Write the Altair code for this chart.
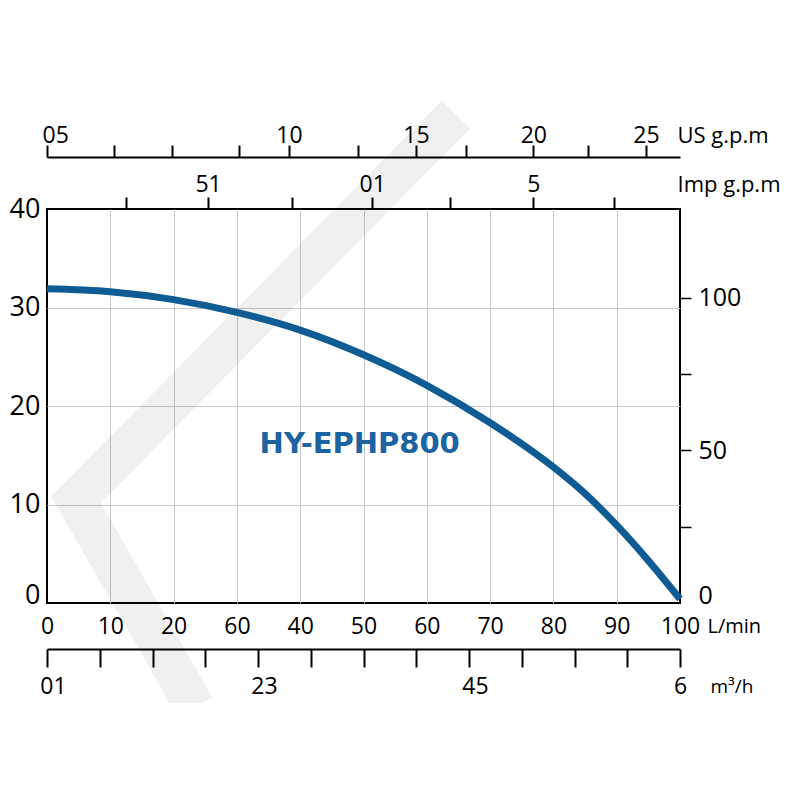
import altair as alt
import pandas as pd

# ---- data ----
flow_lpm = [0, 10, 20, 30, 40, 50, 60, 70, 80, 85, 90, 95, 100]
head_m = [31.9, 31.6, 30.8, 29.5, 27.7, 25.2, 22.1, 18.3, 13.8, 11.1, 7.9, 4.3, 0.4]

lpm_ticks = [0, 10, 20, 30, 40, 50, 60, 70, 80, 90, 100]
lpm_labels = ["0", "10", "20", "60", "40", "50", "60", "70", "80", "90", "100"]

m_ticks = [0, 10, 20, 30, 40]
ft_ticks = [0, 25, 50, 75, 100]
ft_labels = ["0", "", "50", "", "100"]

us_ticks = [0, 2.8, 5.2, 8.0, 10.1, 13.0, 15.4, 17.5, 20.3, 22.6, 25.0]
us_labels = ["05", "", "", "", "10", "", "15", "", "20", "", "25"]

imp_ticks = [2.75, 5.6, 8.5, 11.3, 14.0, 16.9, 19.7]
imp_labels = ["", "51", "", "01", "", "5", ""]

m3h_ticks = [0, 0.5, 1, 1.5, 2, 2.5, 3, 3.5, 4, 4.5, 5, 5.5, 6]
m3h_labels = ["01", "", "", "", "23", "", "", "", "45", "", "", "", "6"]

model_name = ["HY-EPHP800"]
model_x = [49.4]
model_y = [15.2]

# decorative watermark chevron (centre line, in L/min / m units)
wm_x = [64.6, 4.6, 23.4]
wm_y = [49.6, 10.5, -10.6]

W, H = 633, 394
FONT = "Open Sans"
CURVE = "#0f5c94"


def expr(values, labels):
    parts = [f"abs(datum.value - {v}) < 0.001 ? '{l}'" for v, l in zip(values, labels)]
    return " : ".join(parts) + " : ''"


edge_grid = {"condition": {"test": "datum.value <= 0 || datum.value >= 100", "value": "transparent"},
             "value": "#c8c8c8"}
edge_grid_y = {"condition": {"test": "datum.value <= 0 || datum.value >= 40", "value": "transparent"},
               "value": "#c8c8c8"}

x_lpm = alt.Scale(domain=[0, 100], nice=False, zero=False)
y_m = alt.Scale(domain=[0, 40], nice=False, zero=False)

wm_df = pd.DataFrame({"x": wm_x, "y": wm_y, "o": [0, 1, 2]})
watermark = alt.Chart(wm_df).mark_line(
    color="black", opacity=0.06, strokeWidth=40, strokeJoin="miter", strokeCap="butt", clip=False
).encode(
    x=alt.X("x:Q", scale=x_lpm, axis=None),
    y=alt.Y("y:Q", scale=y_m, axis=None),
    order="o:Q",
)

curve_df = pd.DataFrame({"flow": flow_lpm, "head": head_m})
curve = alt.Chart(curve_df).mark_line(
    color=CURVE, strokeWidth=7, interpolate="monotone", strokeCap="butt"
).encode(
    x=alt.X("flow:Q", scale=x_lpm, axis=alt.Axis(
        orient="bottom", values=lpm_ticks, labelExpr=expr(lpm_ticks, lpm_labels),
        grid=True, gridColor=edge_grid, gridWidth=1, ticks=False, domain=False,
        labelFontSize=23, labelPadding=12, labelOverlap=False, labelBound=False, labelFlush=False,
        title="L/min", titleX=660, titleY=29, titleAlign="left", titleBaseline="alphabetic",
        titleFontSize=20, titleAngle=0,
    )),
    y=alt.Y("head:Q", scale=y_m, axis=alt.Axis(
        orient="left", values=m_ticks, grid=True, gridColor=edge_grid_y, gridWidth=1,
        ticks=False, domain=False, labelFontSize=27, labelPadding=7, labelOverlap=False,
        labelFlush=False,
        labelBaseline={"condition": {"test": "datum.value == 0", "value": "alphabetic"}, "value": "middle"},
        title=None,
    )),
)

text_df = pd.DataFrame({"t": model_name, "x": model_x, "y": model_y})
label = alt.Chart(text_df).mark_text(
    font="DejaVu Sans", fontWeight="bold", fontSize=29, color="#1c63a1",
    align="center", baseline="alphabetic"
).encode(
    x=alt.X("x:Q", scale=x_lpm, axis=None),
    y=alt.Y("y:Q", scale=y_m, axis=None),
    text="t:N",
)

us_df = pd.DataFrame({"v": us_ticks})
us_axis = alt.Chart(us_df).mark_point(opacity=0).encode(
    x=alt.X("v:Q", scale=alt.Scale(domain=[0, 26.42], nice=False, zero=False), axis=alt.Axis(
        orient="top", offset=52, values=us_ticks, labelExpr=expr(us_ticks, us_labels),
        grid=False, domain=True, domainColor="black", domainWidth=2,
        ticks=True, tickColor="black", tickWidth=2, tickSize=12,
        labelFontSize=23, labelPadding=3, labelBaseline="alphabetic", labelOverlap=False,
        labelBound=False, labelFlush=True, labelFlushOffset=5,
        title="US g.p.m", titleX=630, titleY=-15, titleAlign="left", titleBaseline="alphabetic",
        titleFontSize=22, titleAngle=0,
    )),
)

imp_df = pd.DataFrame({"v": imp_ticks})
imp_axis = alt.Chart(imp_df).mark_point(opacity=0).encode(
    x=alt.X("v:Q", scale=alt.Scale(domain=[0, 22.0], nice=False, zero=False), axis=alt.Axis(
        orient="top", offset=0, values=imp_ticks, labelExpr=expr(imp_ticks, imp_labels),
        grid=False, domain=False,
        ticks=True, tickColor="black", tickWidth=2, tickSize=12,
        labelFontSize=23, labelPadding=6, labelBaseline="alphabetic", labelOverlap=False,
        labelBound=False, labelFlush=False,
        title="Imp g.p.m", titleX=630, titleY=-18, titleAlign="left", titleBaseline="alphabetic",
        titleFontSize=22, titleAngle=0,
    )),
)

m3h_df = pd.DataFrame({"v": m3h_ticks})
m3h_axis = alt.Chart(m3h_df).mark_point(opacity=0).encode(
    x=alt.X("v:Q", scale=alt.Scale(domain=[0, 6], nice=False, zero=False), axis=alt.Axis(
        orient="bottom", offset=46, values=m3h_ticks, labelExpr=expr(m3h_ticks, m3h_labels),
        grid=False, domain=True, domainColor="black", domainWidth=2,
        ticks=True, tickColor="black", tickWidth=2, tickSize=18,
        labelFontSize=23, labelPadding=8, labelOverlap=False, labelBound=False, labelFlush=False,
        labelOffset={"condition": {"test": "datum.value >= 6", "value": 0}, "value": 6},
        title="m³/h", titleX=663, titleY=43, titleAlign="left", titleBaseline="alphabetic",
        titleFontSize=19, titleAngle=0,
    )),
)

ft_df = pd.DataFrame({"v": ft_ticks})
ft_axis = alt.Chart(ft_df).mark_point(opacity=0).encode(
    y=alt.Y("v:Q", scale=alt.Scale(domain=[0, 129], nice=False, zero=False), axis=alt.Axis(
        orient="right", values=ft_ticks, labelExpr=expr(ft_ticks, ft_labels),
        grid=False, domain=False,
        ticks=True, tickColor={"condition": {"test": "datum.value == 0", "value": "transparent"}, "value": "black"},
        tickWidth=1.5, tickSize=11,
        labelFontSize=25, labelPadding=7, labelOverlap=False, labelBound=False, labelFlush=False,
        labelBaseline={"condition": {"test": "datum.value == 0", "value": "alphabetic"}, "value": "middle"},
        title=None,
    )),
)

chart = alt.layer(
    watermark, curve, label, us_axis, imp_axis, m3h_axis, ft_axis
).resolve_scale(
    x="independent", y="independent"
).properties(
    width=W, height=H,
    autosize=alt.AutoSizeParams(type="none"),
    padding={"left": 39, "top": 201, "right": 112, "bottom": 100},
    background="white",
).configure_view(
    stroke="black", strokeWidth=2
).configure_axis(
    labelFont=FONT, titleFont=FONT, labelColor="black", titleColor="black",
    titleFontWeight="normal",
)

chart.save("out.html", embed_options={"renderer": "svg", "actions": False})
